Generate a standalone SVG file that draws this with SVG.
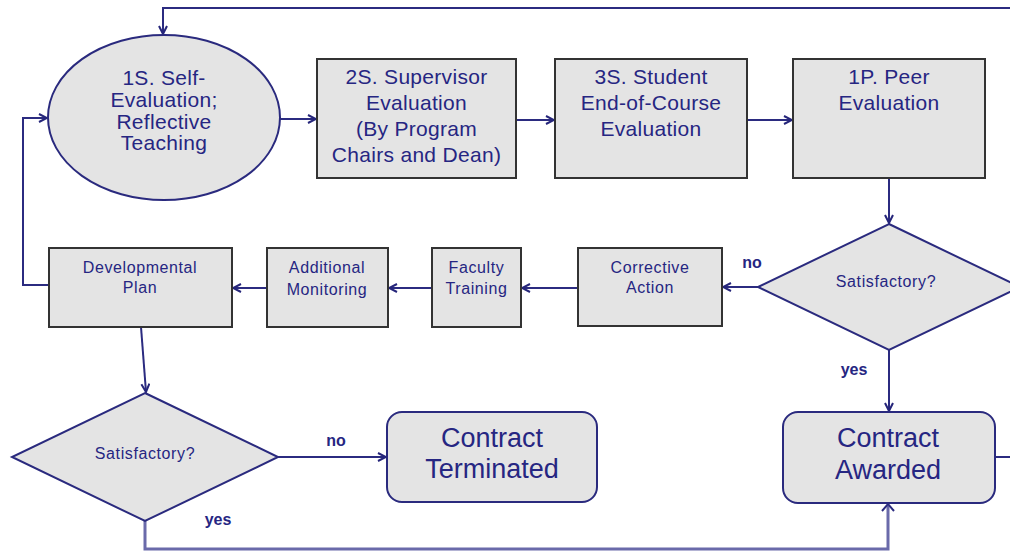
<svg xmlns="http://www.w3.org/2000/svg" width="1010" height="552" viewBox="0 0 1010 552">
<defs>
<marker id="arr" viewBox="0 0 10 10" refX="9" refY="5" markerWidth="10" markerHeight="10" markerUnits="userSpaceOnUse" orient="auto">
<path d="M1,1 L9,5 L1,9" fill="none" stroke="#25257a" stroke-width="2"/>
</marker>
<style>
.box{fill:#e4e4e4;stroke:#333333;stroke-width:2}
.nav{fill:#e4e4e4;stroke:#2a2a7e;stroke-width:2}
.t{font-family:"Liberation Sans",Arial,sans-serif;fill:#262682;text-anchor:middle}
.big{font-size:21px;letter-spacing:0.3px}
.sm{font-size:16px;letter-spacing:0.6px}
.ct{font-size:27px}
.lb{font-size:16px;font-weight:bold}
.c{fill:none;stroke:#2b2b80;stroke-width:2}
.cl{fill:none;stroke:#6a6aaa;stroke-width:3}
</style>
</defs>
<rect width="1010" height="552" fill="#ffffff"/>
<g id="connectors">
<path class="c" d="M1010,8 L163,8 L163,34" marker-end="url(#arr)"/>
<path class="c" d="M50,285 L23,285 L23,118 L47,118" marker-end="url(#arr)"/>
<path class="c" d="M280,119 L316,119" marker-end="url(#arr)"/>
<path class="c" d="M516,120 L554,120" marker-end="url(#arr)"/>
<path class="c" d="M747,120 L792,120" marker-end="url(#arr)"/>
<path class="c" d="M889,178 L889,223" marker-end="url(#arr)"/>
<path class="c" d="M758,287 L723,287" marker-end="url(#arr)"/>
<path class="c" d="M578,288 L522,288" marker-end="url(#arr)"/>
<path class="c" d="M432,288 L389,288" marker-end="url(#arr)"/>
<path class="c" d="M267,288 L233,288" marker-end="url(#arr)"/>
<path class="c" d="M141,327 L146,392" marker-end="url(#arr)"/>
<path class="c" d="M278,457 L386,457" marker-end="url(#arr)"/>
<path class="c" d="M889,350 L889,411" marker-end="url(#arr)"/>
<path class="cl" d="M145,521 L145,549 L888,549 L888,506"/>
<path class="c" d="M882,511 L888,504 L894,511"/>
<path class="c" d="M995,457 L1010,457"/>
<text class="t lb" x="752" y="268">no</text>
<text class="t lb" x="854" y="375">yes</text>
<text class="t lb" x="336" y="446">no</text>
<text class="t lb" x="218" y="525">yes</text>
</g>
<g id="n1s">
<ellipse class="nav" cx="164" cy="117.5" rx="116" ry="82.5"/>
<text class="t big" x="164" y="85">1S. Self-</text>
<text class="t big" x="164" y="107">Evaluation;</text>
<text class="t big" x="164" y="129">Reflective</text>
<text class="t big" x="164" y="150">Teaching</text>
</g>
<g id="n2s">
<rect class="box" x="317" y="59" width="199" height="119"/>
<text class="t big" x="416.5" y="84">2S. Supervisor</text>
<text class="t big" x="416.5" y="110">Evaluation</text>
<text class="t big" x="416.5" y="136">(By Program</text>
<text class="t big" x="416.5" y="162">Chairs and Dean)</text>
</g>
<g id="n3s">
<rect class="box" x="555" y="59" width="192" height="119"/>
<text class="t big" x="651" y="84">3S. Student</text>
<text class="t big" x="651" y="110">End-of-Course</text>
<text class="t big" x="651" y="136">Evaluation</text>
</g>
<g id="n1p">
<rect class="box" x="793" y="59" width="192" height="119"/>
<text class="t big" x="889" y="84">1P. Peer</text>
<text class="t big" x="889" y="110">Evaluation</text>
</g>
<g id="dec1">
<polygon class="nav" points="889,224 1020,287 889,350 758,287"/>
<text class="t sm" x="886" y="287">Satisfactory?</text>
</g>
<g id="corrective">
<rect class="box" x="578" y="248" width="144" height="78"/>
<text class="t sm" x="650" y="273">Corrective</text>
<text class="t sm" x="650" y="293">Action</text>
</g>
<g id="training">
<rect class="box" x="432" y="248" width="89" height="79"/>
<text class="t sm" x="476.5" y="273">Faculty</text>
<text class="t sm" x="476.5" y="294">Training</text>
</g>
<g id="monitoring">
<rect class="box" x="267" y="248" width="121" height="79"/>
<text class="t sm" x="327" y="273">Additional</text>
<text class="t sm" x="327" y="295">Monitoring</text>
</g>
<g id="devplan">
<rect class="box" x="49" y="248" width="183" height="79"/>
<text class="t sm" x="140" y="273">Developmental</text>
<text class="t sm" x="140" y="293">Plan</text>
</g>
<g id="dec2">
<polygon class="nav" points="145,393 278,457 145,521 12,457"/>
<text class="t sm" x="145" y="459">Satisfactory?</text>
</g>
<g id="terminated">
<rect class="nav" x="387" y="412" width="210" height="90" rx="15"/>
<text class="t ct" x="492" y="447">Contract</text>
<text class="t ct" x="492" y="478">Terminated</text>
</g>
<g id="awarded">
<rect class="nav" x="783" y="412" width="212" height="91" rx="15"/>
<text class="t ct" x="888" y="447">Contract</text>
<text class="t ct" x="888" y="479">Awarded</text>
</g>
</svg>
